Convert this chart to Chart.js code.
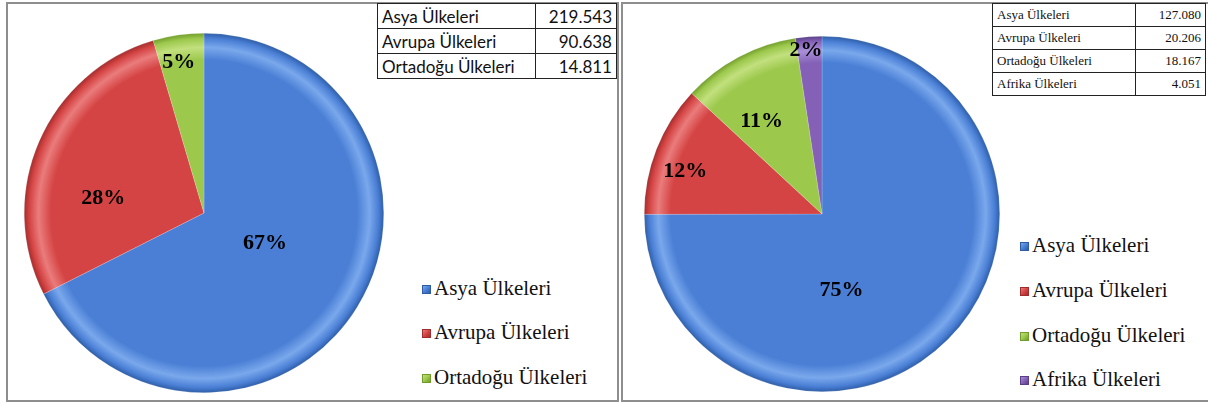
<!DOCTYPE html>
<html><head><meta charset="utf-8">
<script src="https://cdn.jsdelivr.net/npm/chart.js@4.4.1/dist/chart.umd.min.js"></script>
<style>
body{margin:0;width:1208px;height:403px;background:#fff;position:relative;overflow:hidden;}
.panel{position:absolute;border:2px solid #8e8e8e;box-sizing:border-box;background:#fff;}
canvas{position:absolute;}
table{position:absolute;border-collapse:collapse;background:#fff;}
td{border:1px solid #222;padding:0 4px;white-space:nowrap;}
td.v{text-align:right;}
#tL td{font-family:Lato,"Open Sans",sans-serif;font-size:17px;height:24px;color:#111;}
#tR td{font-family:"Liberation Serif",serif;font-size:13px;height:22px;color:#111;}
.legend{position:absolute;font-family:"Liberation Serif",serif;font-size:21px;color:#111;}
.legend div{position:absolute;white-space:nowrap;line-height:21px;}
.legend span{display:inline-block;width:9px;height:9px;margin-right:3px;vertical-align:1px;box-sizing:border-box;}
</style></head>
<body>
<div class="panel" style="left:6px;top:2px;width:613px;height:400px;"></div>
<div class="panel" style="left:621px;top:2px;width:600px;height:400px;"></div>
<canvas id="cL" width="360" height="360" style="left:24px;top:33px;width:360px;height:360px;"></canvas>
<canvas id="cR" width="356" height="356" style="left:644px;top:36px;width:356px;height:356px;"></canvas>
<table id="tL" style="left:377px;top:3px;width:240px;"></table>
<table id="tR" style="left:992px;top:3px;width:214px;"></table>
<div class="legend" id="lL" style="left:422px;top:0;"></div>
<div class="legend" id="lR" style="left:1020px;top:0;"></div>
<script>
// ---- data ----
const leftCategories = ['Asya Ülkeleri', 'Avrupa Ülkeleri', 'Ortadoğu Ülkeleri'];
const leftValues = [219543, 90638, 14811];
const leftValueLabels = ['219.543', '90.638', '14.811'];
const leftPercentLabels = ['67%', '28%', '5%'];

const rightCategories = ['Asya Ülkeleri', 'Avrupa Ülkeleri', 'Ortadoğu Ülkeleri', 'Afrika Ülkeleri'];
const rightValues = [127080, 20206, 18167, 4051];
const rightValueLabels = ['127.080', '20.206', '18.167', '4.051'];
const rightPercentLabels = ['75%', '12%', '11%', '2%'];

// ---- styles ----
const baseColors = ['#4a7fd5', '#d54444', '#9cc84c', '#8461b7'];
const lightColors = ['#7aa8ec', '#ea7c7c', '#c2e07e', '#a98fd8'];
const darkColors = ['#2d5ca4', '#a02c2c', '#709c2c', '#5a3e86'];
const leftLabelOffsets = [[0.34, 0.17], [-0.56, -0.08], [-0.14, -0.84]];
const rightLabelOffsets = [[0.11, 0.43], [-0.77, -0.24], [-0.34, -0.52], [-0.09, -0.92]];
const legendRowsL = [289, 333, 378];
const legendRowsR = [246, 291, 336, 380];

function buildTable(id, cats, vals) {
  const t = document.getElementById(id);
  cats.forEach((c, i) => {
    const tr = document.createElement('tr');
    const a = document.createElement('td'); a.textContent = c;
    const b = document.createElement('td'); b.textContent = vals[i]; b.className = 'v';
    tr.appendChild(a); tr.appendChild(b); t.appendChild(tr);
  });
}
buildTable('tL', leftCategories, leftValueLabels);
buildTable('tR', rightCategories, rightValueLabels);

function buildLegend(id, cats, rows) {
  const l = document.getElementById(id);
  cats.forEach((c, i) => {
    const d = document.createElement('div');
    d.style.top = (rows[i] - 11) + 'px';
    const s = document.createElement('span');
    s.style.background = 'linear-gradient(135deg,' + lightColors[i] + ',' + baseColors[i] + ' 50%,' + darkColors[i] + ')';
    s.style.border = '1px solid ' + darkColors[i];
    d.appendChild(s);
    d.appendChild(document.createTextNode(c));
    l.appendChild(d);
  });
}
buildLegend('lL', leftCategories, legendRowsL);
buildLegend('lR', rightCategories, legendRowsR);

function bevelFill(ctx) {
  const chart = ctx.chart;
  const i = ctx.dataIndex;
  const a = chart.chartArea;
  if (!a) return baseColors[i];
  const cx = (a.left + a.right) / 2, cy = (a.top + a.bottom) / 2;
  const r = Math.min(a.right - a.left, a.bottom - a.top) / 2;
  const g = chart.ctx.createRadialGradient(cx, cy, 0, cx, cy, r);
  g.addColorStop(0, baseColors[i]);
  g.addColorStop(0.85, baseColors[i]);
  g.addColorStop(0.92, lightColors[i]);
  g.addColorStop(0.97, baseColors[i]);
  g.addColorStop(1, darkColors[i]);
  return g;
}

const labelPlugin = {
  id: 'pctLabels',
  afterDatasetsDraw(chart, args, opts) {
    const ctx = chart.ctx;
    const meta = chart.getDatasetMeta(0);
    ctx.save();
    ctx.font = 'bold 22px "Liberation Serif", serif';
    ctx.fillStyle = '#000';
    ctx.textAlign = 'center';
    ctx.textBaseline = 'middle';
    meta.data.forEach((el, i) => {
      const r = el.outerRadius;
      ctx.fillText(opts.labels[i], el.x + opts.offsets[i][0] * r, el.y + opts.offsets[i][1] * r);
    });
    ctx.restore();
  }
};

function makePie(id, cats, vals, pct, offs) {
  new Chart(document.getElementById(id), {
    type: 'pie',
    data: {
      labels: cats,
      datasets: [{
        data: vals,
        backgroundColor: bevelFill,
        borderColor: 'rgba(255,255,255,0.35)',
        borderWidth: 0.5
      }]
    },
    options: {
      responsive: false,
      animation: false,
      layout: { padding: 0 },
      plugins: {
        legend: { display: false },
        tooltip: { enabled: false },
        pctLabels: { labels: pct, offsets: offs }
      }
    },
    plugins: [labelPlugin]
  });
}
makePie('cL', leftCategories, leftValues, leftPercentLabels, leftLabelOffsets);
makePie('cR', rightCategories, rightValues, rightPercentLabels, rightLabelOffsets);
</script>
</body></html>
